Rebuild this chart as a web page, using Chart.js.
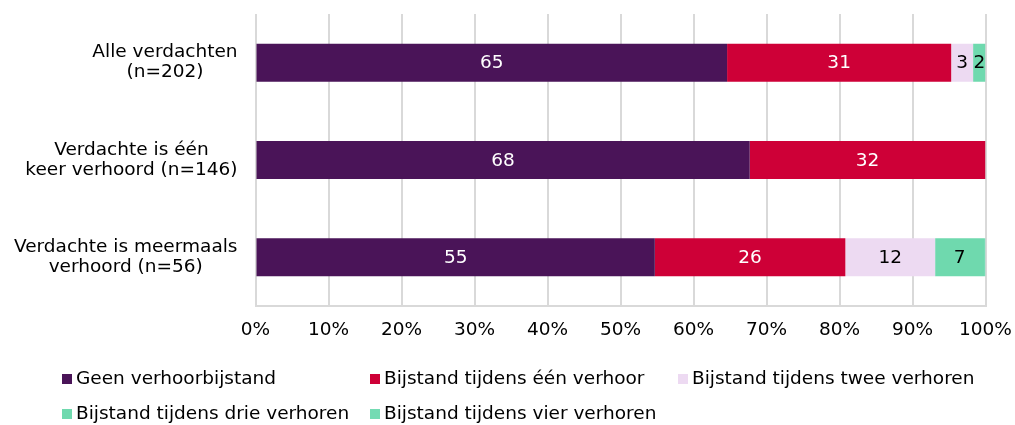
<!DOCTYPE html>
<html>
<head>
<meta charset="utf-8">
<script src="https://cdn.jsdelivr.net/npm/chart.js@4"></script>
<style>
    body { margin: 0; background: #fff; }
    #wrap { position: relative; width: 1015px; height: 425px; }
    #legend {
        position: absolute; left: 62px; top: 367px; width: 940px;
        display: flex; flex-wrap: wrap;
        font-family: "DejaVu Sans", Verdana, sans-serif; font-size: 18.5px; color: #000;
    }
    .legend-item { width: 308px; height: 35px; display: flex; align-items: flex-start; white-space: nowrap; }
    .legend-box { width: 10px; height: 10px; margin: 7px 4px 0 0; flex: none; }
</style>
</head>
<body>
<div id="wrap">
    <canvas id="chart" width="1015" height="425"></canvas>
    <div id="legend"></div>
</div>
<script>
// Categories (each line of the axis label)
const categories = [
    ['Alle verdachten', '(n=202)'],
    ['Verdachte is één', 'keer verhoord (n=146)'],
    ['Verdachte is meermaals', 'verhoord (n=56)']
];

// Series values (percentages)
const seriesNames = [
    'Geen verhoorbijstand',
    'Bijstand tijdens één verhoor',
    'Bijstand tijdens twee verhoren',
    'Bijstand tijdens drie verhoren',
    'Bijstand tijdens vier verhoren'
];
const geenBijstand = [64.6, 67.7, 54.7];
const eenVerhoor = [30.7, 32.3, 26.1];
const tweeVerhoren = [3.0, 0, 12.3];
const drieVerhoren = [1.7, 0, 6.7];
const vierVerhoren = [0, 0, 0.2];

// Tick labels
const xTicks = [0, 10, 20, 30, 40, 50, 60, 70, 80, 90, 100];

const colors = ['#4A1458', '#CE0037', '#EDDAF2', '#6FD9AE', '#74DBB3'];
const labelColors = ['#ffffff', '#ffffff', '#000000', '#000000', '#000000'];
const FONT = '"DejaVu Sans", Verdana, sans-serif';
const FONT_SIZE = 18.5;

const seriesData = [geenBijstand, eenVerhoor, tweeVerhoren, drieVerhoren, vierVerhoren];

// Draw values inside the bar segments
const valueLabels = {
    id: 'valueLabels',
    afterDatasetsDraw(chart) {
        const ctx = chart.ctx;
        ctx.save();
        ctx.font = FONT_SIZE + 'px ' + FONT;
        ctx.textAlign = 'center';
        ctx.textBaseline = 'middle';
        chart.data.datasets.forEach((ds, i) => {
            const meta = chart.getDatasetMeta(i);
            meta.data.forEach((bar, j) => {
                const v = ds.data[j];
                if (!v || v < 0.5) return;
                ctx.fillStyle = labelColors[i];
                ctx.fillText(String(Math.round(v)), (bar.x + bar.base) / 2, bar.y + 1);
            });
        });
        ctx.restore();
    }
};

// Category labels: lines centered, block right-aligned next to the axis
const categoryLabels = {
    id: 'categoryLabels',
    afterDraw(chart) {
        const ctx = chart.ctx;
        const yScale = chart.scales.y;
        const right = chart.chartArea.left - 18;
        ctx.save();
        ctx.font = FONT_SIZE + 'px ' + FONT;
        ctx.fillStyle = '#000';
        ctx.textAlign = 'center';
        ctx.textBaseline = 'middle';
        categories.forEach((lines, i) => {
            const blockW = Math.max(...lines.map(l => ctx.measureText(l).width));
            const cx = right - blockW / 2;
            const cy = yScale.getPixelForValue(i);
            const lh = 20;
            lines.forEach((line, k) => {
                ctx.fillText(line, cx, cy + (k - (lines.length - 1) / 2) * lh);
            });
        });
        ctx.restore();
    }
};

const chart = new Chart(document.getElementById('chart'), {
    type: 'bar',
    data: {
        labels: categories.map(c => c.join(' ')),
        datasets: seriesNames.map((name, i) => ({
            label: name,
            data: seriesData[i],
            backgroundColor: colors[i],
            borderWidth: 0,
            categoryPercentage: 1,
            barPercentage: 0.39
        }))
    },
    options: {
        indexAxis: 'y',
        responsive: false,
        animation: false,
        layout: { padding: { top: 14, right: 29.5, bottom: 79, left: 0 } },
        plugins: {
            legend: { display: false },
            tooltip: { enabled: false }
        },
        scales: {
            x: {
                stacked: true,
                min: 0,
                max: 100,
                afterBuildTicks(scale) {
                    scale.ticks = xTicks.map(v => ({ value: v }));
                },
                afterFit(scale) {
                    scale.height = 40;
                    scale.paddingLeft = 0;
                    scale.paddingRight = 0;
                },
                grid: { color: '#d9d9d9', lineWidth: 2, drawTicks: false },
                border: { color: '#d9d9d9', width: 2 },
                ticks: {
                    padding: 13,
                    color: '#000',
                    font: { family: FONT, size: FONT_SIZE },
                    maxRotation: 0,
                    callback: v => v + '%'
                }
            },
            y: {
                stacked: true,
                afterFit(scale) { scale.width = 255.5; },
                grid: { display: false },
                border: { display: false },
                ticks: { display: false }
            }
        }
    },
    plugins: [valueLabels, categoryLabels]
});

// HTML legend in columns
const legend = document.getElementById('legend');
seriesNames.forEach((name, i) => {
    const item = document.createElement('div');
    item.className = 'legend-item';
    item.innerHTML = `<span class="legend-box" style="background:${colors[i]}"></span><span>${name}</span>`;
    legend.appendChild(item);
});
</script>
</body>
</html>
